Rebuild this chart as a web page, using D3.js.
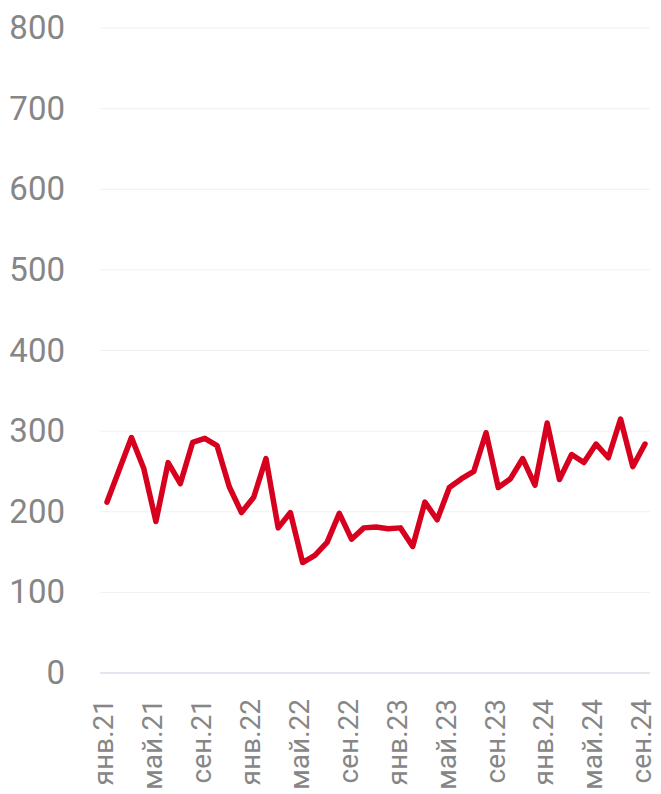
<!DOCTYPE html>
<meta charset="utf-8">
<style>
body { margin: 0; background: #fff; }
text { font-family: Roboto, "Noto Sans", sans-serif; fill: #868686; }
.grid line { stroke: #f0f0f0; stroke-width: 1; }
.axis--x path, .axis--x line, .axis--y path, .axis--y line { display: none; }
.line { fill: none; stroke: #d7001e; stroke-width: 5.5; stroke-linejoin: round; stroke-linecap: round; }
</style>
<body>
<svg width="661" height="794"></svg>
<script src="https://d3js.org/d3.v7.min.js"></script>
<script>

var months = ["янв.21","фев.21","мар.21","апр.21","май.21","июн.21","июл.21","авг.21","сен.21","окт.21","ноя.21","дек.21",
              "янв.22","фев.22","мар.22","апр.22","май.22","июн.22","июл.22","авг.22","сен.22","окт.22","ноя.22","дек.22",
              "янв.23","фев.23","мар.23","апр.23","май.23","июн.23","июл.23","авг.23","сен.23","окт.23","ноя.23","дек.23",
              "янв.24","фев.24","мар.24","апр.24","май.24","июн.24","июл.24","авг.24","сен.24"];

var values = [212, 252, 292, 254, 188, 261, 235, 286, 291, 282, 231, 199,
              218, 266, 180, 199, 137, 146, 162, 198, 166, 180, 181, 179,
              180, 157, 212, 190, 230, 241, 250, 298, 230, 241, 266, 233,
              310, 240, 271, 261, 284, 267, 315, 256, 284];

var yTicks = [0, 100, 200, 300, 400, 500, 600, 700, 800];

var svg = d3.select("svg"),
    margin = {top: 28, right: 11, bottom: 121, left: 100},
    width = +svg.attr("width") - margin.left - margin.right,
    height = +svg.attr("height") - margin.top - margin.bottom;

var x = d3.scalePoint().domain(months).range([7, width - 5]),
    y = d3.scaleLinear().domain([0, 800]).range([height, 0]);

var g = svg.append("g")
    .attr("transform", "translate(" + margin.left + "," + margin.top + ")");

// gridlines
g.append("g")
    .attr("class", "grid")
  .selectAll("line")
  .data(yTicks.filter(function(d) { return d > 0; }))
  .enter().append("line")
    .attr("x1", 0)
    .attr("x2", width)
    .attr("y1", function(d) { return y(d); })
    .attr("y2", function(d) { return y(d); });

// zero line
g.append("line")
    .attr("x1", 0)
    .attr("x2", width)
    .attr("y1", y(0))
    .attr("y2", y(0))
    .style("stroke", "#d9dee8")
    .style("stroke-width", 1.5);

g.append("g")
    .attr("class", "axis axis--y")
    .call(d3.axisLeft(y).tickValues(yTicks).tickSize(0).tickPadding(35))
  .selectAll("text")
    .style("font-size", "33px");

var labelled = months.filter(function(d, i) { return i % 4 === 0; });

g.append("g")
    .attr("class", "axis axis--x")
    .attr("transform", "translate(0," + height + ")")
    .call(d3.axisBottom(x).tickValues(labelled).tickSize(0))
  .selectAll("text")
    .style("font-size", "28px")
    .attr("y", -4)
    .attr("x", -26)
    .attr("dy", ".35em")
    .attr("transform", "rotate(-90)")
    .style("text-anchor", "end");

g.append("path")
    .datum(values)
    .attr("class", "line")
    .attr("d", d3.line()
        .x(function(d, i) { return x(months[i]); })
        .y(function(d) { return y(d); }));

</script>
